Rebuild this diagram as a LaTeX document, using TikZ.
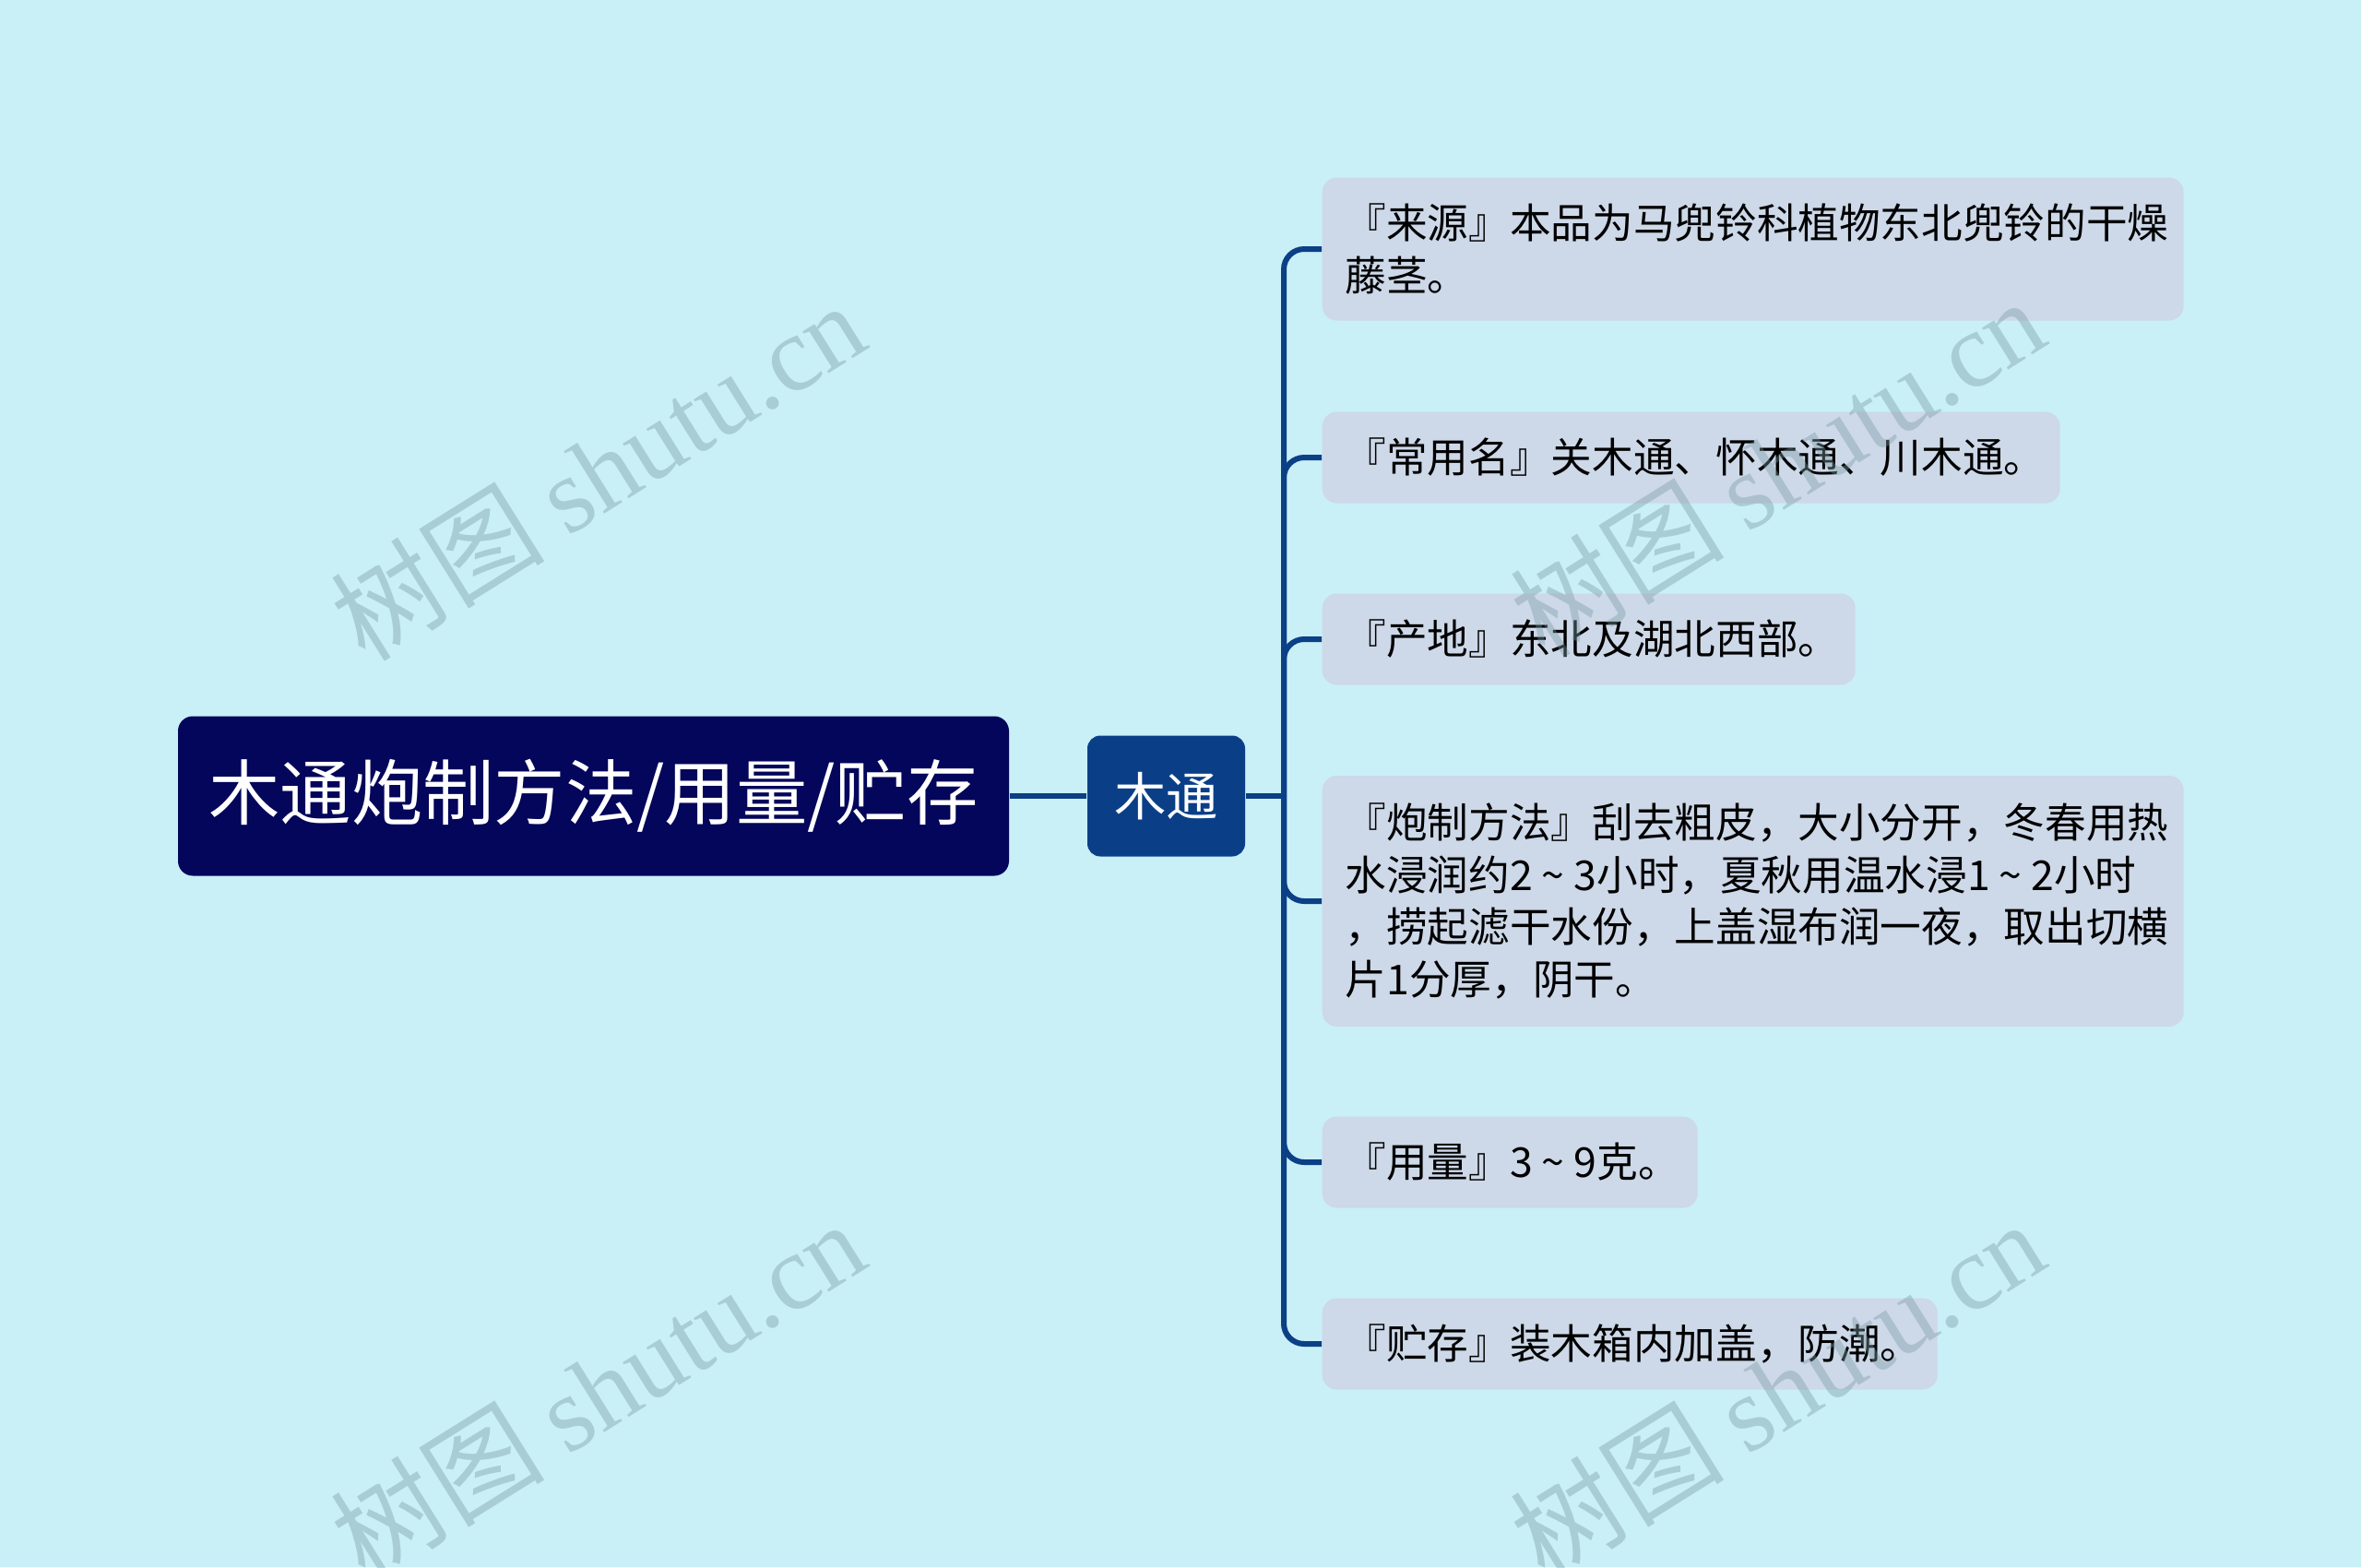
\documentclass[tikz,border=0pt]{standalone}
\usepackage{fontspec}
\setmainfont{Noto Sans CJK SC}
\newfontfamily\wmlatin{Liberation Serif}
\usetikzlibrary{positioning}
\definecolor{bgcol}{HTML}{C9EFF7}
\definecolor{rootcol}{HTML}{03065A}
\definecolor{midcol}{HTML}{0A3F88}
\definecolor{leafcol}{HTML}{CDD8E8}
\definecolor{linecol}{HTML}{0B3F86}
\definecolor{wmcol}{RGB}{121,154,162}
\newcommand{\rng}{\makebox[1em]{\textasciitilde}}

\begin{document}
\begin{tikzpicture}[
    rootbox/.style={fill=rootcol, text=white, rounded corners=0.16cm, minimum width=9.01cm, minimum height=1.73cm, font=\fontsize{22}{26}\selectfont},
    midbox/.style={fill=midcol, text=white, rounded corners=0.14cm, minimum width=1.71cm, minimum height=1.31cm, font=\fontsize{16}{19}\selectfont},
    leafbox/.style={fill=leafcol, text=black, rounded corners=0.16cm, anchor=west, align=left, inner xsep=0.25cm, inner ysep=0pt, font=\fontsize{12.7}{16.2}\selectfont},
    link/.style={draw=linecol, line width=0.06cm, rounded corners=0.22cm},
    wmark/.style={text=wmcol, opacity=0.4, rotate=32, font=\fontsize{33}{37}\selectfont}
]
    \fill[bgcol] (0,0) rectangle (25.6,-16.99);
    \useasboundingbox (0,0) rectangle (25.6,-16.99);

    \node[rootbox] (root) at (6.435,-8.63) {木通炮制方法/用量/贮存};
    \node[midbox] (mid) at (12.645,-8.63) {木通};
    \coordinate (hub) at (13.92,-8.63);

    \node[leafbox, text width=8.84cm, minimum height=1.55cm] (source) at (14.33,-2.70) {『来源』本品为马兜铃科植物东北兜铃的干燥\\藤茎。};
    \node[leafbox, text width=7.50cm, minimum height=0.99cm] (names) at (14.33,-4.96) {『常用名』关木通、怀木通、川木通。};
    \node[leafbox, text width=5.28cm, minimum height=0.99cm] (origin) at (14.33,-6.93) {『产地』东北及湖北西部。};
    \node[leafbox, text width=8.84cm, minimum height=2.72cm] (process) at (14.33,-9.77) {『炮制方法』刮去粗皮，大小分开，冬春用热\\水浸润约2\rng 3小时，夏秋用温水浸1\rng 2小时\\，捞起滤干水份，上盖湿布润一夜，取出切横\\片1分厚，阴干。};
    \node[leafbox, text width=3.57cm, minimum height=0.99cm] (dose) at (14.33,-12.60) {『用量』3\rng 9克。};
    \node[leafbox, text width=6.17cm, minimum height=0.99cm] (store) at (14.33,-14.57) {『贮存』装木箱内加盖，防潮。};

    \draw[link] (root.east) -- (mid.west);
    \draw[link] (mid.east) -- (hub);
    \foreach \leaf in {source, names, origin, process, dose, store}
        \draw[link] (hub) |- (\leaf.west);

    \foreach \wx/\wy in {6.48/-5.10, 19.27/-5.06, 6.48/-15.06, 19.27/-15.06}
        \node[wmark] at (\wx,\wy) {树图 {\wmlatin shutu.cn}};
\end{tikzpicture}
\end{document}
